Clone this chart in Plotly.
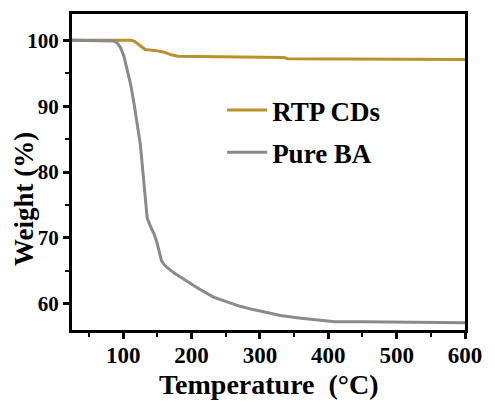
import plotly.graph_objects as go

# RTP CDs
rtp_temp = [25, 112, 117, 125, 132, 150, 160, 170, 180, 240, 335, 340, 600]
rtp_weight = [100, 100, 99.8, 99.1, 98.6, 98.4, 98.2, 97.8, 97.6, 97.5, 97.4, 97.2, 97.1]

# Pure BA
ba_temp = [25, 80, 86, 91, 96, 101, 106, 111, 116, 120, 123, 125, 127, 129, 131, 133, 135, 140, 145,
           149, 153, 156, 160, 164, 175, 193, 210, 232, 250, 271, 290, 310, 330, 360, 390, 410,
           450, 500, 550, 560, 600]
ba_weight = [100, 100, 99.9, 99.6, 98.9, 97.6, 95.6, 93.2, 90.2, 87.6, 85.8, 84.2, 82, 79.5, 76.9, 74.5, 73, 71.7, 70.6,
             69.4, 67.8, 66.5, 65.9, 65.5, 64.6, 63.4, 62.3, 61, 60.3, 59.6, 59.1, 58.6, 58.2, 57.8, 57.5, 57.25,
             57.25, 57.2, 57.2, 57.1, 57.1]

x_ticks = [100, 200, 300, 400, 500, 600]
y_ticks = [60, 70, 80, 90, 100]

FONT = "Liberation Serif, Times New Roman, serif"

fig = go.Figure()
fig.add_trace(go.Scatter(x=rtp_temp, y=rtp_weight, mode="lines", name="<b>RTP CDs</b>",
                         legendgroup="a", line=dict(color="#B8902C", width=3)))
fig.add_trace(go.Scatter(x=ba_temp, y=ba_weight, mode="lines", name="<b>Pure BA</b>",
                         legendgroup="b", line=dict(color="#8A8A8A", width=3)))

axis_common = dict(showline=True, mirror=True, linecolor="black", linewidth=3,
                   ticks="outside", ticklen=6, tickwidth=2.5, tickcolor="black",
                   showgrid=False, zeroline=False, automargin=False)

fig.update_xaxes(range=[25, 600], tickvals=x_ticks,
                 ticktext=["<b>%d</b>" % v for v in x_ticks],
                 minor=dict(dtick=50, tick0=0, ticks="outside", ticklen=4, tickwidth=2, tickcolor="black"),
                 tickfont=dict(family=FONT, size=23, color="black"),
                 ticklabelstandoff=-4,
                 **axis_common)
fig.update_yaxes(range=[56, 104], tickvals=y_ticks,
                 ticktext=["<b>%d</b>" % v for v in y_ticks],
                 minor=dict(dtick=5, tick0=0, ticks="outside", ticklen=4, tickwidth=2, tickcolor="black"),
                 tickfont=dict(family=FONT, size=21, color="black"),
                 **axis_common)

# axis titles
fig.add_annotation(x=0.5, y=-0.174, xref="paper", yref="paper", showarrow=False,
                   xanchor="center", yanchor="middle",
                   text="<b>Temperature\u00a0\u00a0(°C)</b>",
                   font=dict(family=FONT, size=28, color="black"))
fig.add_annotation(x=-0.122, y=0.415, xref="paper", yref="paper", showarrow=False,
                   xanchor="center", yanchor="middle", textangle=-90,
                   text="<b>Weight (%)</b>",
                   font=dict(family=FONT, size=27, color="black"))

fig.update_layout(
    width=495, height=403,
    margin=dict(l=72, r=30, t=14, b=73),
    paper_bgcolor="white", plot_bgcolor="white",
    font=dict(family=FONT),
    legend=dict(x=0.382, y=0.772, xanchor="left", yanchor="top",
                bgcolor="rgba(0,0,0,0)",
                font=dict(family=FONT, size=27, color="black"),
                tracegroupgap=4, itemwidth=40),
)

fig.write_html("out.html", config={"displayModeBar": False},
               post_script="document.body.style.margin='0';document.body.style.padding='0';")
